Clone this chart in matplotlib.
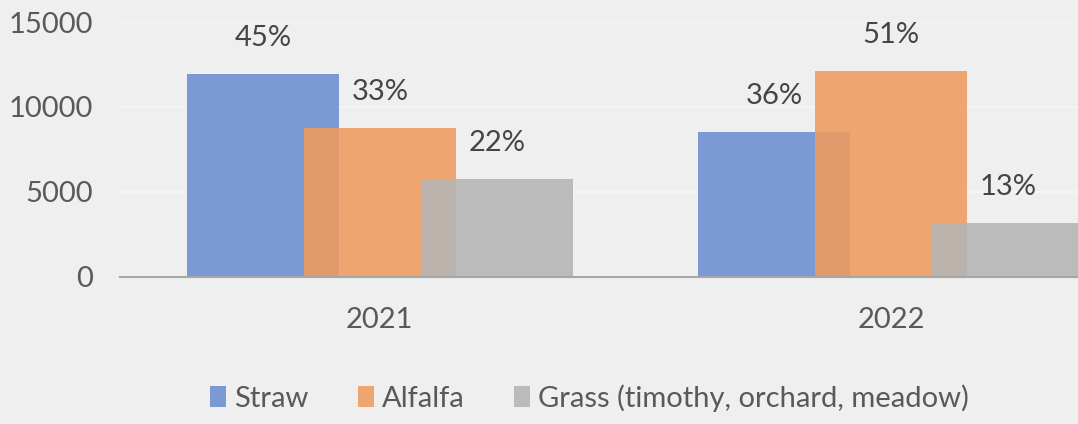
import numpy as np
import matplotlib.pyplot as plt

years = ['2021', '2022']
series = ['Straw', 'Alfalfa', 'Grass (timothy, orchard, meadow)']
straw = [11940, 8530]
alfalfa = [8770, 12120]
grass = [5770, 3180]
shares = [[45, 36], [33, 51], [22, 13]]
colors = ['#6b8fd1', '#ef9b5e', '#b4b4b4']

plt.rcParams['font.family'] = ['Lato', 'DejaVu Sans']
fs = 21

fig = plt.figure(figsize=(10.78, 4.24), dpi=100)
fig.patch.set_facecolor('#efefef')
ax = fig.add_axes([0.111, 0.347, 0.889, 0.601])
ax.set_facecolor('#efefef')

x = np.arange(len(years))
width = 0.297
step = 0.229

for i, (name, vals) in enumerate(zip(series, [straw, alfalfa, grass])):
    pos = x + (i - 1) * step
    ax.bar(pos, vals, width, color=colors[i], alpha=0.88, label=name, zorder=2 + i)
    for j, v in enumerate(vals):
        ax.annotate(f'{shares[i][j]}%', (pos[j], v),
                    xytext=(0, 26), textcoords='offset points',
                    ha='center', va='center', fontsize=fs, color='#454545')

ax.set_ylim(0, 15000)
ax.set_xlim(-0.509, 1.366)
ax.set_yticks([0, 5000, 10000, 15000])
ax.set_xticks(x)
ax.set_xticklabels(years)
ax.tick_params(axis='both', length=0, labelsize=fs, colors='#595959')
ax.tick_params(axis='x', pad=22)
ax.tick_params(axis='y', pad=19)
ax.grid(axis='y', color='#f6f6f6', linewidth=1.2, zorder=0)
for s in ['top', 'right', 'left']:
    ax.spines[s].set_visible(False)
ax.spines['bottom'].set_color('#a6a6a6')
ax.spines['bottom'].set_linewidth(1.5)
ax.spines['bottom'].set_zorder(10)

fig.legend(loc='center', bbox_to_anchor=(0.547, 0.061), ncol=3, frameon=False,
           fontsize=fs, handlelength=0.55, handleheight=0.75, handletextpad=0.27,
           columnspacing=1.7, labelcolor='#595959')

fig.savefig('out.png', facecolor=fig.get_facecolor())
